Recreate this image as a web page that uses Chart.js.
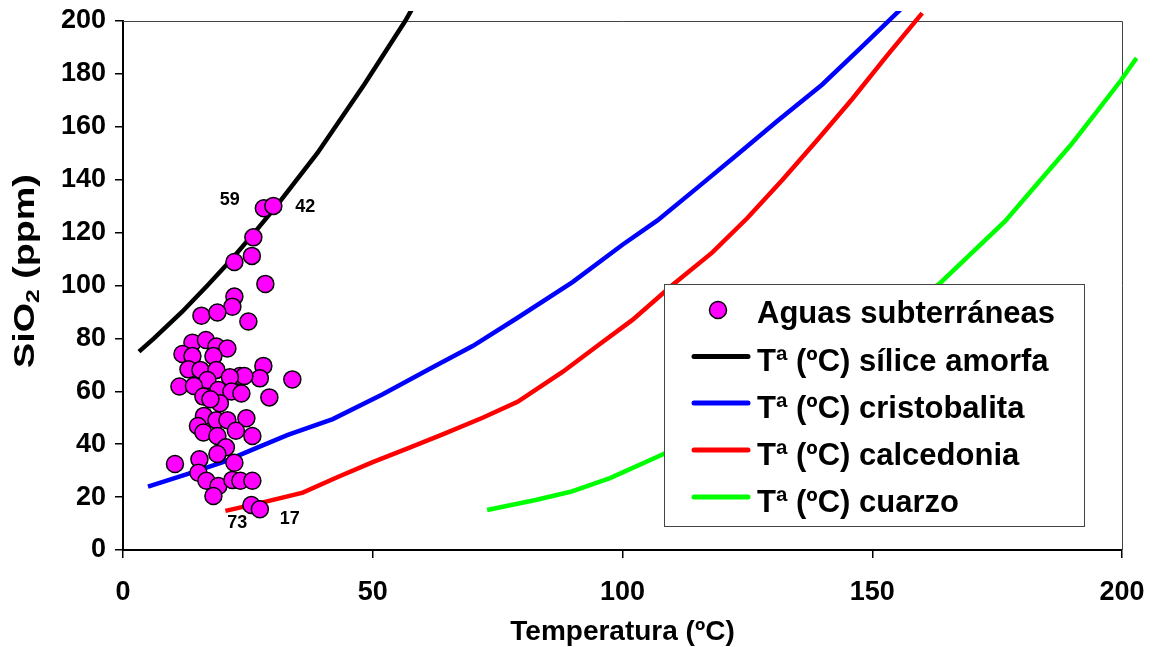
<!DOCTYPE html>
<html>
<head>
<meta charset="utf-8">
<script src="https://cdn.jsdelivr.net/npm/chart.js@4/dist/chart.umd.min.js"></script>
<style>
  html, body { margin: 0; padding: 0; background: #ffffff; }
  #wrap { width: 1155px; height: 647px; position: relative; }
</style>
</head>
<body>
<div id="wrap"><canvas id="grafico" width="1155" height="647"></canvas></div>
<script>
// Muestras de aguas subterráneas: temperatura (ºC) y SiO2 (ppm)
const muestrasT = [28.2, 30.1, 26.1, 25.8, 22.3, 28.5, 22.3, 21.9, 15.7, 18.9, 25.1, 13.9, 16.6, 18.7, 20.9,
  11.9, 13.9, 18.1, 13.1, 15.5, 18.7, 28.1, 27.4, 23.4, 24.3, 21.4, 16.9, 33.9, 11.3, 14.2,
  19.1, 21.7, 23.7, 29.3, 16.1, 19.4, 17.5, 16.2, 18.7, 20.9, 24.7, 15.0, 16.1, 18.9, 22.6,
  25.9, 20.6, 10.4, 15.3, 18.9, 22.3, 15.1, 16.7, 19.1, 18.1, 21.9, 23.5, 25.9, 25.7, 27.4];
const muestrasSiO2 = [129.2, 130.1, 118.2, 111.2, 108.9, 100.6, 95.8, 92.0, 88.6, 89.8, 86.4, 78.4, 79.4, 76.9, 76.2,
  74.1, 73.3, 73.3, 68.3, 68.1, 68.1, 69.6, 64.9, 65.8, 65.8, 65.3, 64.3, 64.5, 61.8, 62.0,
  60.5, 59.9, 59.2, 57.7, 58.0, 55.5, 57.0, 50.7, 49.1, 49.1, 49.8, 46.9, 44.4, 43.1, 45.1,
  43.1, 38.8, 32.5, 34.3, 36.3, 33.0, 29.2, 26.2, 24.2, 20.4, 26.5, 26.2, 26.2, 17.0, 15.4];

// Número de muestra rotulado junto a algunos puntos
const etiquetasTexto = ['59', '42', '73', '17'];
const etiquetasIndice = [0, 1, 58, 59];

// Curvas de solubilidad de la sílice (Tª en ºC frente a SiO2 en ppm)
const amorfaT    = [3.2, 6.2, 11.8, 16.9, 21.8, 26.3, 30.7, 34.8, 38.9, 48.3, 56.5, 59.5];
const amorfaSiO2 = [75, 80, 90, 100, 110, 120, 130, 140, 150, 176, 200, 210];

const cristobalitaT    = [5, 13, 20, 27, 33, 42, 52, 62, 70, 79, 90, 100, 107, 115, 123, 131, 140, 148, 156];
const cristobalitaSiO2 = [24, 28.8, 33.2, 38.8, 43.5, 49.5, 58.9, 69.1, 77.1, 87.8, 101.3, 115.4, 124.6, 137, 149.5, 162.2, 176, 190.4, 205];

const calcedoniaT    = [20.5, 28, 36, 43, 50, 57, 64, 72, 79, 88, 95, 102, 110, 118, 125, 132, 139, 146, 153, 160];
const calcedoniaSiO2 = [14.8, 18, 21.7, 27.6, 33.2, 38.4, 43.7, 50, 56, 67.3, 77.2, 87, 100.2, 112.5, 125.5, 139.9, 155, 170.5, 187, 203];

const cuarzoT    = [72.9, 82.6, 89.6, 97.5, 108, 120, 130, 140, 150, 163.4, 176.6, 183.6, 189.7, 195, 199.8, 202.9];
const cuarzoSiO2 = [15.1, 18.9, 22, 27.2, 36.1, 47.5, 57.5, 69, 82.5, 100.6, 124.3, 139.7, 153, 165.8, 177.6, 186];

// Marcas de los ejes
const marcasX = [0, 50, 100, 150, 200];
const marcasY = [0, 20, 40, 60, 80, 100, 120, 140, 160, 180, 200];

const FUENTE = '"Liberation Sans", Arial, sans-serif';

function pares(xs, ys) {
  return xs.map((x, i) => ({ x: x, y: ys[i] }));
}

// Recorte: las curvas pueden sobresalir un poco por arriba y por la derecha
const recorteCurvas = { left: 0, top: 10, right: 16, bottom: 0 };

function curva(nombre, xs, ys, color) {
  return {
    label: nombre,
    data: pares(xs, ys),
    showLine: true,
    borderColor: color,
    backgroundColor: color,
    borderWidth: 4.5,
    pointRadius: 0,
    pointHoverRadius: 0,
    tension: 0,
    fill: false,
    order: 2,
    clip: recorteCurvas
  };
}

// Marco fino del área de trazado (lados superior y derecho)
const marcoArea = {
  id: 'marcoArea',
  beforeDatasetsDraw(chart) {
    const a = chart.chartArea;
    const ctx = chart.ctx;
    ctx.save();
    ctx.strokeStyle = '#444444';
    ctx.lineWidth = 1;
    ctx.beginPath();
    ctx.moveTo(a.left, a.top + 0.5);
    ctx.lineTo(a.right + 0.5, a.top + 0.5);
    ctx.lineTo(a.right + 0.5, a.bottom);
    ctx.stroke();
    ctx.restore();
  }
};

// Título del eje Y con subíndice (texto algo estirado a lo largo)
const tituloEjeY = {
  id: 'tituloEjeY',
  afterDraw(chart) {
    const ctx = chart.ctx;
    ctx.save();
    ctx.translate(24, 271);
    ctx.rotate(-Math.PI / 2);
    ctx.scale(1.3, 1);
    ctx.fillStyle = '#000';
    ctx.textBaseline = 'alphabetic';
    const grande = 'bold 29px ' + FUENTE;
    const peque = 'bold 19px ' + FUENTE;
    ctx.font = grande;
    const w1 = ctx.measureText('SiO').width;
    const w3 = ctx.measureText(' (ppm)').width;
    ctx.font = peque;
    const w2 = ctx.measureText('2').width;
    const total = w1 + w2 + w3;
    let x = -total / 2;
    ctx.font = grande;
    ctx.fillText('SiO', x, 10);
    x += w1;
    ctx.font = peque;
    ctx.fillText('2', x, 15);
    x += w2;
    ctx.font = grande;
    ctx.fillText(' (ppm)', x, 10);
    ctx.restore();
  }
};

// Leyenda dentro del área de trazado
const leyendaInterna = {
  id: 'leyendaInterna',
  afterDatasetsDraw(chart) {
    const ctx = chart.ctx;
    const caja = { x: 664, y: 284, w: 420, h: 242 };
    ctx.save();
    ctx.fillStyle = '#ffffff';
    ctx.fillRect(caja.x, caja.y, caja.w, caja.h);
    ctx.strokeStyle = '#444444';
    ctx.lineWidth = 1;
    ctx.strokeRect(caja.x + 0.5, caja.y + 0.5, caja.w, caja.h);
    ctx.font = 'bold 31px ' + FUENTE;
    ctx.textBaseline = 'alphabetic';
    ctx.fillStyle = '#000';
    const filas = [310, 356.5, 403, 450, 497];
    chart.data.datasets.forEach((ds, i) => {
      const yc = filas[i];
      if (i === 0) {
        ctx.beginPath();
        ctx.arc(718, yc, 8.5, 0, Math.PI * 2);
        ctx.fillStyle = ds.backgroundColor;
        ctx.fill();
        ctx.lineWidth = 1.5;
        ctx.strokeStyle = '#000';
        ctx.stroke();
      } else {
        ctx.beginPath();
        ctx.moveTo(694, yc);
        ctx.lineTo(748, yc);
        ctx.lineWidth = 5;
        ctx.lineCap = 'round';
        ctx.strokeStyle = ds.borderColor;
        ctx.stroke();
      }
      ctx.fillStyle = '#000';
      ctx.fillText(ds.label, 757, i === 0 ? yc + 13 : yc + 14.5);
    });
    ctx.restore();
  }
};

// Rótulos numéricos de las muestras señaladas
const rotulosMuestras = {
  id: 'rotulosMuestras',
  afterDatasetsDraw(chart) {
    const ctx = chart.ctx;
    const meta = chart.getDatasetMeta(0);
    const desplaz = [[-34, -8], [32, 1], [-14, 18], [30, 10]];
    ctx.save();
    ctx.font = 'bold 18px ' + FUENTE;
    ctx.fillStyle = '#000';
    ctx.textAlign = 'center';
    ctx.textBaseline = 'middle';
    etiquetasIndice.forEach((idx, k) => {
      const p = meta.data[idx];
      ctx.fillText(etiquetasTexto[k], p.x + desplaz[k][0], p.y + desplaz[k][1]);
    });
    ctx.restore();
  }
};

const fuenteMarcas = { family: FUENTE, size: 27, weight: 'bold' };

new Chart(document.getElementById('grafico'), {
  type: 'scatter',
  data: {
    datasets: [
      {
        label: 'Aguas subterráneas',
        data: pares(muestrasT, muestrasSiO2),
        backgroundColor: '#FF00FF',
        borderColor: '#000000',
        borderWidth: 1.5,
        pointRadius: 8.5,
        pointHoverRadius: 8.5,
        showLine: false,
        order: 1,
        clip: false
      },
      curva('Tª (ºC) sílice amorfa', amorfaT, amorfaSiO2, '#000000'),
      curva('Tª (ºC) cristobalita', cristobalitaT, cristobalitaSiO2, '#0000FF'),
      curva('Tª (ºC) calcedonia', calcedoniaT, calcedoniaSiO2, '#FF0000'),
      curva('Tª (ºC) cuarzo', cuarzoT, cuarzoSiO2, '#00FF00')
    ]
  },
  options: {
    responsive: false,
    devicePixelRatio: 1,
    animation: false,
    events: [],
    layout: { padding: { left: 0, right: 33, top: 21, bottom: 0 } },
    plugins: {
      legend: { display: false },
      tooltip: { enabled: false }
    },
    scales: {
      x: {
        type: 'linear',
        min: 0,
        max: 200,
        afterBuildTicks(s) { s.ticks = marcasX.map(v => ({ value: v })); },
        afterFit(s) { s.height = 97; s.paddingLeft = 0; s.paddingRight = 0; },
        ticks: { font: fuenteMarcas, color: '#000', padding: 18, maxRotation: 0 },
        grid: { drawOnChartArea: false, drawTicks: true, tickLength: 8, color: '#000', lineWidth: 1.5 },
        border: { display: true, color: '#000', width: 2 },
        title: {
          display: true,
          text: 'Temperatura (ºC)',
          color: '#000',
          font: { family: FUENTE, size: 28, weight: 'bold', lineHeight: 1 },
          padding: { top: 0, bottom: 1 }
        }
      },
      y: {
        type: 'linear',
        min: 0,
        max: 200,
        afterBuildTicks(s) { s.ticks = marcasY.map(v => ({ value: v })); },
        afterFit(s) { s.width = 123; s.paddingTop = 0; s.paddingBottom = 0; },
        ticks: { font: fuenteMarcas, color: '#000', padding: 9 },
        grid: { drawOnChartArea: false, drawTicks: true, tickLength: 8, color: '#000', lineWidth: 1.5 },
        border: { display: true, color: '#000', width: 2 }
      }
    }
  },
  plugins: [marcoArea, leyendaInterna, rotulosMuestras, tituloEjeY]
});
</script>
</body>
</html>
